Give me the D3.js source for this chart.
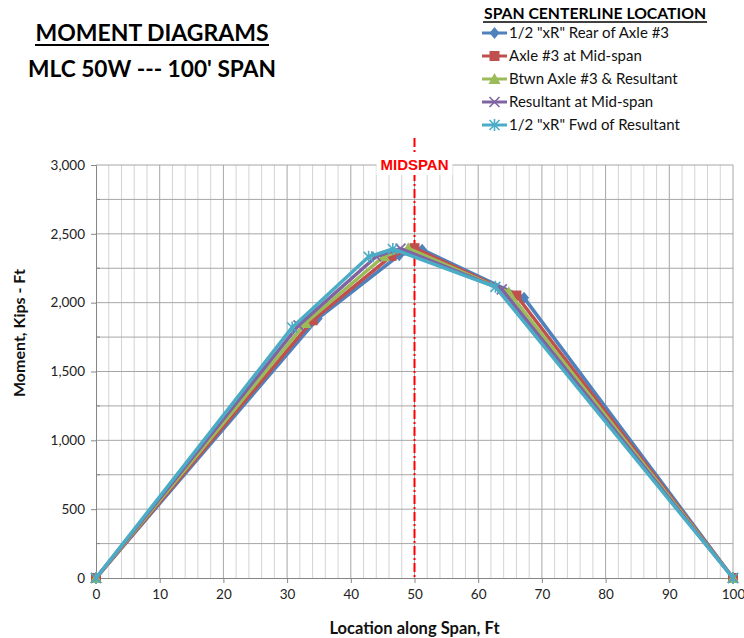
<!DOCTYPE html>
<html>
<head>
<meta charset="utf-8">
<script src="https://cdn.jsdelivr.net/npm/d3@7"></script>
<style>
  html, body { margin: 0; padding: 0; background: #fff; }
  svg { display: block; font-family: Lato, "Open Sans", "Liberation Sans", sans-serif; }
</style>
</head>
<body>
<svg id="chart" width="744" height="638"></svg>
<script>
// Moment diagram data: location along span (ft) and moment (kip-ft) for each truck position
const seriesNames = [
  '1/2 "xR" Rear of Axle #3',
  'Axle #3 at Mid-span',
  'Btwn Axle #3 & Resultant',
  'Resultant at Mid-span',
  '1/2 "xR" Fwd of Resultant'
];
const seriesColors = ["#4F81BD", "#C0504D", "#9BBB59", "#8064A2", "#4BACC6"];
const seriesMarkers = ["diamond", "square", "triangle", "x", "star"];

const rearX   = [0, 34.8, 47.6, 51.2, 67.2, 100];
const rearM   = [0, 1885, 2345, 2385, 2035, 0];
const axle3X  = [0, 34.0, 46.4, 50.0, 66.0, 100];
const axle3M  = [0, 1872, 2340, 2396, 2052, 0];
const btwnX   = [0, 32.9, 45.2, 49.0, 64.8, 100];
const btwnM   = [0, 1853, 2337, 2395, 2075, 0];
const resX    = [0, 31.8, 44.0, 47.8, 63.7, 100];
const resM    = [0, 1835, 2335, 2393, 2097, 0];
const fwdX    = [0, 30.8, 42.8, 46.6, 62.7, 100];
const fwdM    = [0, 1820, 2333, 2390, 2115, 0];

const xTicks = [0, 10, 20, 30, 40, 50, 60, 70, 80, 90, 100];
const yTicks = [0, 500, 1000, 1500, 2000, 2500, 3000];
const midspan = 50;

const seriesX = [rearX, axle3X, btwnX, resX, fwdX];
const seriesM = [rearM, axle3M, btwnM, resM, fwdM];
const series = seriesNames.map((name, i) => ({
  name, color: seriesColors[i], marker: seriesMarkers[i],
  points: seriesX[i].map((x, j) => ({ x, m: seriesM[i][j] }))
}));

const svg = d3.select("#chart");
const plot = { left: 96, right: 733, top: 165, bottom: 578 };

const x = d3.scaleLinear().domain([0, 100]).range([plot.left, plot.right]);
const y = d3.scaleLinear().domain([0, 3000]).range([plot.bottom, plot.top]);

// Grid: minor verticals every 2 ft, major every 10 ft, horizontals every 250
const grid = svg.append("g");
grid.selectAll("line.vminor").data(d3.range(0, 101, 2).filter(v => v % 10 !== 0))
  .join("line")
  .attr("x1", d => x(d)).attr("x2", d => x(d))
  .attr("y1", plot.top).attr("y2", plot.bottom)
  .attr("stroke", "#d4d4d4").attr("stroke-width", 1);
grid.selectAll("line.vmajor").data(xTicks.filter(v => v > 0))
  .join("line")
  .attr("x1", d => x(d)).attr("x2", d => x(d))
  .attr("y1", plot.top).attr("y2", plot.bottom)
  .attr("stroke", "#a6a6a6").attr("stroke-width", 1);
grid.selectAll("line.h").data(d3.range(250, 3001, 250))
  .join("line")
  .attr("x1", plot.left).attr("x2", plot.right)
  .attr("y1", d => y(d)).attr("y2", d => y(d))
  .attr("stroke", "#a6a6a6").attr("stroke-width", 1);

// Axes
const yAxis = d3.axisLeft(y).tickValues(yTicks).tickFormat(d3.format(",")).tickSize(5).tickPadding(6);
const gy = svg.append("g").attr("transform", `translate(${plot.left},0)`).call(yAxis);
const xAxis = d3.axisBottom(x).tickValues(xTicks).tickSize(5).tickPadding(6);
const gx = svg.append("g").attr("transform", `translate(0,${plot.bottom})`).call(xAxis);
[gx, gy].forEach(g => {
  g.select(".domain").attr("stroke", "#868686");
  g.selectAll(".tick line").attr("stroke", "#868686");
  g.selectAll(".tick text").attr("fill", "#222").attr("font-size", 13.5)
    .attr("font-family", "Lato, 'Open Sans', sans-serif");
});
// minor y ticks
svg.append("g").selectAll("line").data(d3.range(250, 3000, 500))
  .join("line")
  .attr("x1", plot.left).attr("x2", plot.left + 4)
  .attr("y1", d => y(d)).attr("y2", d => y(d))
  .attr("stroke", "#868686");

// Midspan reference line
svg.append("line")
  .attr("x1", x(midspan)).attr("x2", x(midspan))
  .attr("y1", 138).attr("y2", plot.bottom)
  .attr("stroke", "#FF0000").attr("stroke-width", 2)
  .attr("stroke-dasharray", "9,3,2,3");
svg.append("rect")
  .attr("x", x(midspan) - 38).attr("y", 153).attr("width", 76).attr("height", 22)
  .attr("fill", "#fff");
svg.append("text")
  .attr("x", x(midspan)).attr("y", 170).attr("text-anchor", "middle")
  .attr("font-family", "'Liberation Sans', Arial, sans-serif")
  .attr("font-weight", "bold").attr("font-size", 15).attr("fill", "#FF0000")
  .text("MIDSPAN");

// Marker shapes
function drawMarker(g, type, color, cx, cy) {
  const s = 5;
  if (type === "diamond") {
    g.append("path").attr("d", `M${cx},${cy - s - 1}L${cx + s},${cy}L${cx},${cy + s + 1}L${cx - s},${cy}Z`).attr("fill", color);
  } else if (type === "square") {
    g.append("rect").attr("x", cx - s).attr("y", cy - s).attr("width", 2 * s).attr("height", 2 * s).attr("fill", color);
  } else if (type === "triangle") {
    g.append("path").attr("d", `M${cx},${cy - s - 1}L${cx + s + 1},${cy + s}L${cx - s - 1},${cy + s}Z`).attr("fill", color);
  } else if (type === "x") {
    g.append("path").attr("d", `M${cx - s},${cy - s}L${cx + s},${cy + s}M${cx - s},${cy + s}L${cx + s},${cy - s}`)
      .attr("stroke", color).attr("stroke-width", 1.6).attr("fill", "none");
  } else if (type === "star") {
    g.append("path").attr("d", `M${cx - s},${cy - s}L${cx + s},${cy + s}M${cx - s},${cy + s}L${cx + s},${cy - s}M${cx},${cy - s - 1}L${cx},${cy + s + 1}`)
      .attr("stroke", color).attr("stroke-width", 1.6).attr("fill", "none");
  }
}

// Series lines and markers
const line = d3.line().x(d => x(d.x)).y(d => y(d.m));
const sg = svg.append("g");
series.forEach(s => {
  const g = sg.append("g");
  g.append("path").datum(s.points).attr("d", line)
    .attr("fill", "none").attr("stroke", s.color).attr("stroke-width", 3.5)
    .attr("stroke-linejoin", "round");
  s.points.forEach(p => drawMarker(g, s.marker, s.color, x(p.x), y(p.m)));
});

// Axis titles
svg.append("text")
  .attr("transform", `translate(25,333) rotate(-90)`)
  .attr("text-anchor", "middle").attr("font-weight", "bold").attr("font-size", 16)
  .attr("fill", "#111").text("Moment, Kips - Ft");
svg.append("text")
  .attr("x", x(50)).attr("y", 634).attr("text-anchor", "middle")
  .attr("font-weight", "bold").attr("font-size", 16.5).attr("fill", "#111")
  .text("Location along Span, Ft");

// Chart titles
svg.append("text").attr("x", 152).attr("y", 41).attr("text-anchor", "middle")
  .attr("font-weight", "bold").attr("font-size", 23).attr("fill", "#000")
  .attr("textLength", 233).attr("lengthAdjust", "spacingAndGlyphs")
  .text("MOMENT DIAGRAMS");
svg.append("line").attr("x1", 35).attr("x2", 269).attr("y1", 45).attr("y2", 45)
  .attr("stroke", "#000").attr("stroke-width", 2);
svg.append("text").attr("x", 152).attr("y", 77).attr("text-anchor", "middle")
  .attr("font-weight", "bold").attr("font-size", 23).attr("fill", "#000")
  .attr("textLength", 248).attr("lengthAdjust", "spacingAndGlyphs")
  .text("MLC 50W --- 100' SPAN");

// Legend
const lg = svg.append("g");
lg.append("text").attr("x", 484).attr("y", 19).attr("font-weight", "bold").attr("font-size", 14.5)
  .attr("fill", "#000").attr("textLength", 222).attr("lengthAdjust", "spacingAndGlyphs")
  .text("SPAN CENTERLINE LOCATION");
lg.append("line").attr("x1", 483).attr("x2", 707).attr("y1", 22).attr("y2", 22)
  .attr("stroke", "#000").attr("stroke-width", 1.5);
const legendY = d3.scaleLinear().domain([0, 4]).range([33, 125]);
series.forEach((s, i) => {
  const yy = legendY(i);
  lg.append("line").attr("x1", 482).attr("x2", 507).attr("y1", yy).attr("y2", yy)
    .attr("stroke", s.color).attr("stroke-width", 3);
  drawMarker(lg, s.marker, s.color, 494.5, yy);
  lg.append("text").attr("x", 509).attr("y", yy + 5).attr("font-size", 15)
    .attr("fill", "#111").text(s.name);
});
</script>
</body>
</html>
